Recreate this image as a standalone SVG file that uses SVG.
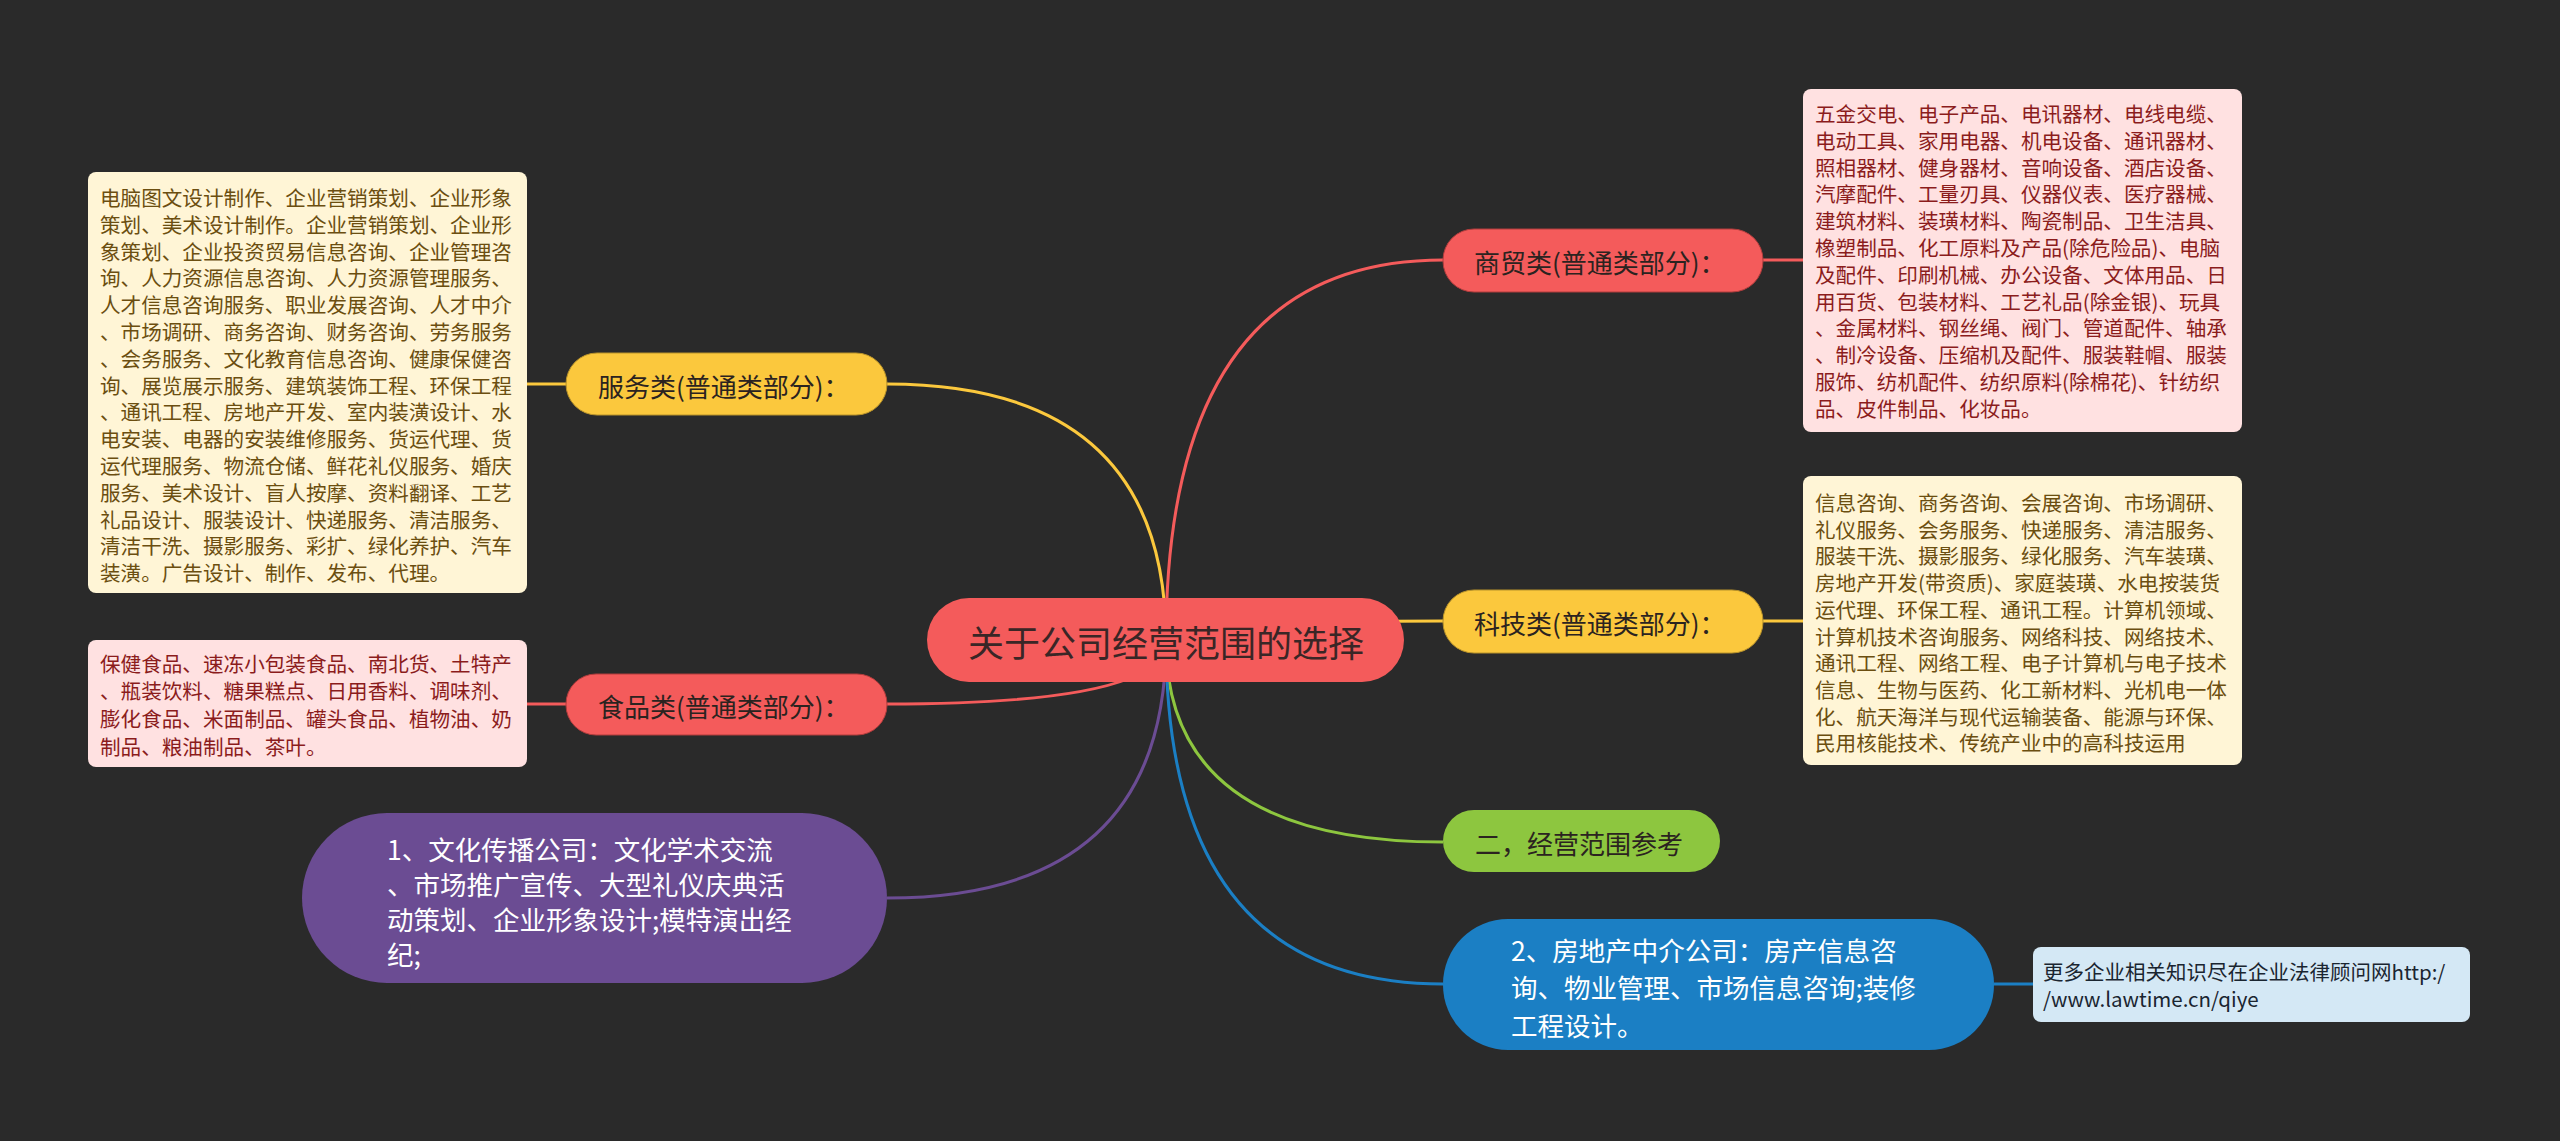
<svg xmlns="http://www.w3.org/2000/svg" width="2560" height="1141" viewBox="0 0 2560 1141">
<style>
text{font-family:"Noto Sans CJK SC","Noto Sans",sans-serif;dominant-baseline:central}
.con{fill:none;stroke-width:3}
.box{font-size:20.6px}
.lbl{font-size:26px;fill:#2b2320}
.big{font-size:26.5px;fill:#ffffff}
</style>
<rect width="2560" height="1141" fill="#2a2a2a"/>
<g id="connectors">
<path class="con" stroke="#f45b5b" d="M1166,641 Q1166,260 1443,260"/>
<path class="con" stroke="#fbc83d" d="M1166,641 Q1166,384 887,384"/>
<path class="con" stroke="#fbc83d" d="M1166,641 Q1166,621 1443,621"/>
<path class="con" stroke="#f45b5b" d="M1166,641 Q1166,704 887,704"/>
<path class="con" stroke="#8dc63f" d="M1166,641 Q1166,842 1443,842"/>
<path class="con" stroke="#1b7fc4" d="M1166,641 Q1166,984 1443,984"/>
<path class="con" stroke="#6b4c93" d="M1166,641 Q1166,898 887,898"/>
<path class="con" stroke="#fbc83d" d="M527,384 H566"/>
<path class="con" stroke="#f45b5b" d="M527,704 H566"/>
<path class="con" stroke="#f45b5b" d="M1763,260 H1803"/>
<path class="con" stroke="#fbc83d" d="M1763,621 H1803"/>
<path class="con" stroke="#1b7fc4" d="M1994,984 H2033"/>
</g>
<g id="root">
<rect x="927" y="598" width="477" height="84" rx="42" fill="#f45b5b"/>
<text x="1166" y="641" text-anchor="middle" font-size="36" fill="#3a2626">关于公司经营范围的选择</text>
</g>
<g id="service-label">
<rect x="566" y="353" width="321" height="62" rx="31" fill="#fbc83d" stroke="#b8922a" stroke-width="1"/>
<text class="lbl" x="598" y="385">服务类(普通类部分)：</text>
</g>
<g id="service-box">
<rect x="88" y="172" width="439" height="421" rx="8" fill="#fff5d6"/>
<text class="box" fill="#6b4e10">
<tspan x="100" y="197">电脑图文设计制作、企业营销策划、企业形象</tspan>
<tspan x="100" y="223.8">策划、美术设计制作。企业营销策划、企业形</tspan>
<tspan x="100" y="250.6">象策划、企业投资贸易信息咨询、企业管理咨</tspan>
<tspan x="100" y="277.4">询、人力资源信息咨询、人力资源管理服务、</tspan>
<tspan x="100" y="304.2">人才信息咨询服务、职业发展咨询、人才中介</tspan>
<tspan x="100" y="331">、市场调研、商务咨询、财务咨询、劳务服务</tspan>
<tspan x="100" y="357.8">、会务服务、文化教育信息咨询、健康保健咨</tspan>
<tspan x="100" y="384.6">询、展览展示服务、建筑装饰工程、环保工程</tspan>
<tspan x="100" y="411.4">、通讯工程、房地产开发、室内装潢设计、水</tspan>
<tspan x="100" y="438.2">电安装、电器的安装维修服务、货运代理、货</tspan>
<tspan x="100" y="465">运代理服务、物流仓储、鲜花礼仪服务、婚庆</tspan>
<tspan x="100" y="491.8">服务、美术设计、盲人按摩、资料翻译、工艺</tspan>
<tspan x="100" y="518.6">礼品设计、服装设计、快递服务、清洁服务、</tspan>
<tspan x="100" y="545.4">清洁干洗、摄影服务、彩扩、绿化养护、汽车</tspan>
<tspan x="100" y="572.2">装潢。广告设计、制作、发布、代理。</tspan>
</text>
</g>
<g id="food-label">
<rect x="566" y="674" width="321" height="61" rx="30" fill="#f45b5b" stroke="#b03c3c" stroke-width="1"/>
<text class="lbl" x="598" y="705">食品类(普通类部分)：</text>
</g>
<g id="food-box">
<rect x="88" y="640" width="439" height="127" rx="8" fill="#ffe1e1"/>
<text class="box" fill="#8b1c1c">
<tspan x="100" y="663">保健食品、速冻小包装食品、南北货、土特产</tspan>
<tspan x="100" y="690">、瓶装饮料、糖果糕点、日用香料、调味剂、</tspan>
<tspan x="100" y="718">膨化食品、米面制品、罐头食品、植物油、奶</tspan>
<tspan x="100" y="746">制品、粮油制品、茶叶。</tspan>
</text>
</g>
<g id="commerce-label">
<rect x="1443" y="229" width="320" height="63" rx="31" fill="#f45b5b" stroke="#b03c3c" stroke-width="1"/>
<text class="lbl" x="1474" y="261">商贸类(普通类部分)：</text>
</g>
<g id="commerce-box">
<rect x="1803" y="89" width="439" height="343" rx="8" fill="#ffe1e1"/>
<text class="box" fill="#8b1c1c">
<tspan x="1815" y="113">五金交电、电子产品、电讯器材、电线电缆、</tspan>
<tspan x="1815" y="139.8">电动工具、家用电器、机电设备、通讯器材、</tspan>
<tspan x="1815" y="166.6">照相器材、健身器材、音响设备、酒店设备、</tspan>
<tspan x="1815" y="193.4">汽摩配件、工量刃具、仪器仪表、医疗器械、</tspan>
<tspan x="1815" y="220.2">建筑材料、装璜材料、陶瓷制品、卫生洁具、</tspan>
<tspan x="1815" y="247">橡塑制品、化工原料及产品(除危险品)、电脑</tspan>
<tspan x="1815" y="273.8">及配件、印刷机械、办公设备、文体用品、日</tspan>
<tspan x="1815" y="300.6">用百货、包装材料、工艺礼品(除金银)、玩具</tspan>
<tspan x="1815" y="327.4">、金属材料、钢丝绳、阀门、管道配件、轴承</tspan>
<tspan x="1815" y="354.2">、制冷设备、压缩机及配件、服装鞋帽、服装</tspan>
<tspan x="1815" y="381">服饰、纺机配件、纺织原料(除棉花)、针纺织</tspan>
<tspan x="1815" y="407.8">品、皮件制品、化妆品。</tspan>
</text>
</g>
<g id="tech-label">
<rect x="1443" y="590" width="320" height="63" rx="31" fill="#fbc83d" stroke="#b8922a" stroke-width="1"/>
<text class="lbl" x="1474" y="622">科技类(普通类部分)：</text>
</g>
<g id="tech-box">
<rect x="1803" y="476" width="439" height="289" rx="8" fill="#fff5d6"/>
<text class="box" fill="#6b4e10">
<tspan x="1815" y="502">信息咨询、商务咨询、会展咨询、市场调研、</tspan>
<tspan x="1815" y="528.7">礼仪服务、会务服务、快递服务、清洁服务、</tspan>
<tspan x="1815" y="555.4">服装干洗、摄影服务、绿化服务、汽车装璜、</tspan>
<tspan x="1815" y="582.1">房地产开发(带资质)、家庭装璜、水电按装货</tspan>
<tspan x="1815" y="608.8">运代理、环保工程、通讯工程。计算机领域、</tspan>
<tspan x="1815" y="635.5">计算机技术咨询服务、网络科技、网络技术、</tspan>
<tspan x="1815" y="662.2">通讯工程、网络工程、电子计算机与电子技术</tspan>
<tspan x="1815" y="688.9">信息、生物与医药、化工新材料、光机电一体</tspan>
<tspan x="1815" y="715.6">化、航天海洋与现代运输装备、能源与环保、</tspan>
<tspan x="1815" y="742.3">民用核能技术、传统产业中的高科技运用</tspan>
</text>
</g>
<g id="reference-node">
<rect x="1443" y="810" width="277" height="62" rx="31" fill="#8dc63f"/>
<text class="lbl" x="1475" y="842">二，经营范围参考</text>
</g>
<g id="realestate-node">
<rect x="1443" y="919" width="551" height="131" rx="65" fill="#1b7fc4"/>
<text class="big">
<tspan x="1511" y="949">2、房地产中介公司：房产信息咨</tspan>
<tspan x="1511" y="986">询、物业管理、市场信息咨询;装修</tspan>
<tspan x="1511" y="1024">工程设计。</tspan>
</text>
</g>
<g id="link-node">
<rect x="2033" y="947" width="437" height="75" rx="8" fill="#d4e8f5"/>
<text font-size="20.5" fill="#1a2530">
<tspan x="2043" y="971">更多企业相关知识尽在企业法律顾问网http:/</tspan>
<tspan x="2043" y="998">/www.lawtime.cn/qiye</tspan>
</text>
</g>
<g id="culture-node">
<rect x="302" y="813" width="585" height="170" rx="85" fill="#6b4c93"/>
<text class="big">
<tspan x="387" y="848">1、文化传播公司：文化学术交流</tspan>
<tspan x="387" y="883">、市场推广宣传、大型礼仪庆典活</tspan>
<tspan x="387" y="918">动策划、企业形象设计;模特演出经</tspan>
<tspan x="387" y="953">纪;</tspan>
</text>
</g>
</svg>
